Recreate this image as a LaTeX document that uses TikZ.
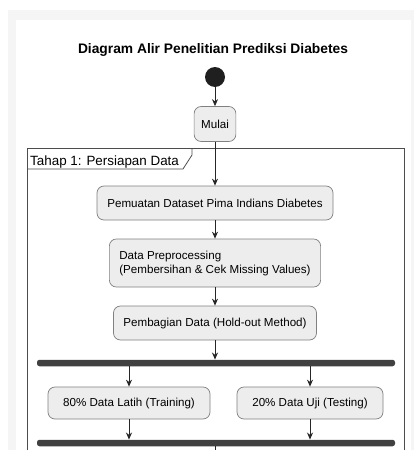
\documentclass[tikz,border=0pt]{standalone}
\usepackage{fontspec}
\setmainfont{Liberation Sans}
\usetikzlibrary{positioning,arrows.meta}
\begin{document}
\begin{tikzpicture}[x=1pt, y=-1pt,
    act/.style={draw=black!50, line width=0.7pt, fill=black!7, rounded corners=7pt, minimum height=34pt, inner xsep=9pt, font=\fontsize{11.6}{14}\selectfont},
    forkbar/.style={fill=black!75, rounded corners=2.5pt, minimum width=358pt, minimum height=6.5pt, inner sep=0pt},
    flow/.style={-{Stealth[length=7pt,width=6pt]}, black!85, line width=0.8pt}]
    \useasboundingbox (0,0) rectangle (414,450);
    \fill[black!4] (8,10) rectangle (414,450);
    \fill[white] (16,20) rectangle (411,450);

    % Title and start
    \node[font=\bfseries\fontsize{13.8}{16}\selectfont] (title) at (213,50) {Diagram Alir Penelitian Prediksi Diabetes};
    \node[circle, fill=black!88, minimum size=20pt, inner sep=0pt] (start) at (215,77) {};
    \node[act, minimum height=35pt, inner xsep=7pt] (mulai) at (215,124) {Mulai};

    % Partition frame
    \draw[black!70, line width=1pt] (27,452) -- (27,148) -- (404,148) -- (404,452);
    \draw[black!70, line width=0.8pt] (27,169) -- (183,169) -- (192,155) -- (192,148);
    \node[anchor=base west, font=\fontsize{13.4}{15}\selectfont, inner sep=0pt] (tahap) at (30,165) {Tahap 1: Persiapan Data};

    % Actions
    \node[act, minimum width=236pt] (muat) at (215,203) {Pemuatan Dataset Pima Indians Diabetes};
    \node[act, minimum height=48pt, align=left, inner xsep=10pt] (prep) at (215,263) {Data Preprocessing\\(Pembersihan \& Cek Missing Values)};
    \node[act, minimum width=203pt] (bagi) at (215,323) {Pembagian Data (Hold-out Method)};

    % Fork bars
    \node[forkbar] (fork) at (216,363) {};
    \node[act, minimum height=32pt, minimum width=162pt] (latih) at (129,403) {80\% Data Latih (Training)};
    \node[act, minimum height=32pt, minimum width=146pt] (uji) at (310,403) {20\% Data Uji (Testing)};
    \node[forkbar] (join) at (216,443) {};
    \coordinate (bawah) at (215,452);

    % Arrows
    \draw[flow] (start) -- (mulai);
    \draw[flow] (mulai) -- (muat);
    \draw[flow] (muat) -- (prep);
    \draw[flow] (prep) -- (bagi);
    \draw[flow] (bagi) -- (bagi.south |- fork.north);
    \draw[flow] (fork.south -| latih.north) -- (latih);
    \draw[flow] (fork.south -| uji.north) -- (uji);
    \draw[flow] (latih) -- (latih.south |- join.north);
    \draw[flow] (uji) -- (uji.south |- join.north);
    \draw[black!85, line width=0.8pt] (join.south -| bawah) -- (bawah);
\end{tikzpicture}
\end{document}
